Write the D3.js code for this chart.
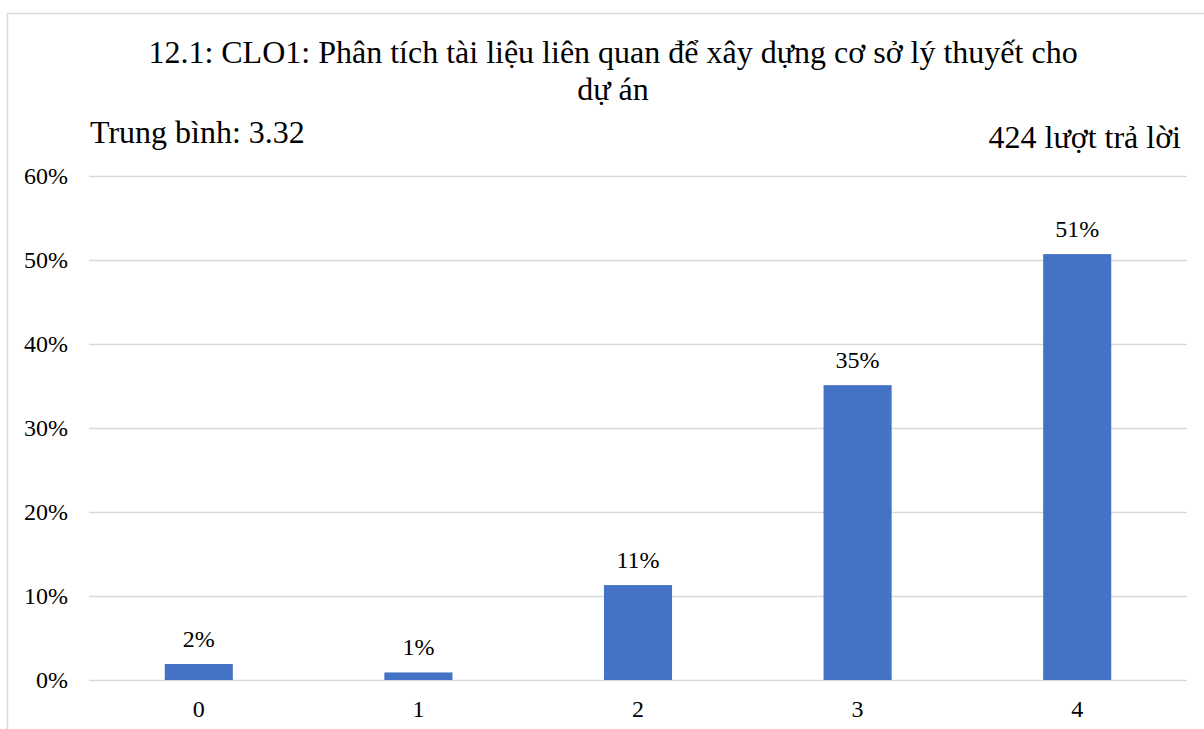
<!DOCTYPE html>
<head>
<meta charset="UTF-8">
<title>12.1: CLO1</title>
<script src="https://cdnjs.cloudflare.com/ajax/libs/d3/7.8.5/d3.min.js"></script>
<style>
body { margin:0; background:#fff; }
text { font-family:"Liberation Serif","Times New Roman",serif; fill:#000; }
.grid line { stroke:#d9d9d9; stroke-width:1.5; }
.grid path { display:none; }
</style>
</head>
<body>
<div id="chart"></div>
<script>
var width = 1204, height = 729;

// data
var categories = ["0", "1", "2", "3", "4"];
var values = [1.9, 0.9, 11.3, 35.1, 50.7];          // percent of answers
var labels = ["2%", "1%", "11%", "35%", "51%"];
var yTicks = [0, 10, 20, 30, 40, 50, 60];
var titleLines = ["12.1: CLO1: Phân tích tài liệu liên quan để xây dựng cơ sở lý thuyết cho", "dự án"];
var meanText = "Trung bình: 3.32";
var countText = "424 lượt trả lời";

var svg = d3.select("#chart").append("svg").attr("width", width).attr("height", height);

// chart frame (only top/left visible in the crop)
svg.append("rect").attr("x", 7.5).attr("y", 13.5).attr("width", 1220).attr("height", 760)
  .attr("fill", "none").attr("stroke", "#d9d9d9").attr("stroke-width", 1.5);

var margin = {left: 89, right: 1187, top: 176, bottom: 680};

var x = d3.scaleBand().domain(categories).range([margin.left, margin.right]).paddingInner(0.69).paddingOuter(0.345);
var y = d3.scaleLinear().domain([0, 60]).range([margin.bottom, margin.top]);

// gridlines
svg.append("g").attr("class", "grid")
  .attr("transform", "translate(" + margin.left + ",0)")
  .call(d3.axisLeft(y).tickValues(yTicks).tickSize(-(margin.right - margin.left)).tickFormat(""));

// y tick labels
svg.selectAll(".ylab").data(yTicks).enter().append("text")
  .attr("class", "ylab")
  .attr("x", 68)
  .attr("y", function(d){ return y(d) + 8; })
  .attr("text-anchor", "end")
  .style("font-size", "24px")
  .text(function(d){ return d + "%"; });

// bars
svg.selectAll(".bar").data(values).enter().append("rect")
  .attr("class", "bar")
  .attr("x", function(d, i){ return x(categories[i]); })
  .attr("y", function(d){ return y(d); })
  .attr("width", x.bandwidth())
  .attr("height", function(d){ return y(0) - y(d); })
  .attr("fill", "#4472c4");

// value labels
svg.selectAll(".vlab").data(values).enter().append("text")
  .attr("class", "vlab")
  .attr("x", function(d, i){ return x(categories[i]) + x.bandwidth() / 2; })
  .attr("y", function(d){ return y(d) - 17; })
  .attr("text-anchor", "middle")
  .style("font-size", "24px")
  .text(function(d, i){ return labels[i]; });

// x labels
svg.selectAll(".xlab").data(categories).enter().append("text")
  .attr("class", "xlab")
  .attr("x", function(d){ return x(d) + x.bandwidth() / 2; })
  .attr("y", 717)
  .attr("text-anchor", "middle")
  .style("font-size", "24px")
  .text(function(d){ return d; });

// title
svg.selectAll(".title").data(titleLines).enter().append("text")
  .attr("class", "title")
  .attr("x", 613)
  .attr("y", function(d, i){ return 63 + i * 37; })
  .attr("text-anchor", "middle")
  .style("font-size", "32px")
  .text(function(d){ return d; });

svg.append("text").attr("x", 90).attr("y", 143).style("font-size", "32px").text(meanText);
svg.append("text").attr("x", 1181).attr("y", 148).attr("text-anchor", "end").style("font-size", "32px").text(countText);
</script>
</body>
</html>
